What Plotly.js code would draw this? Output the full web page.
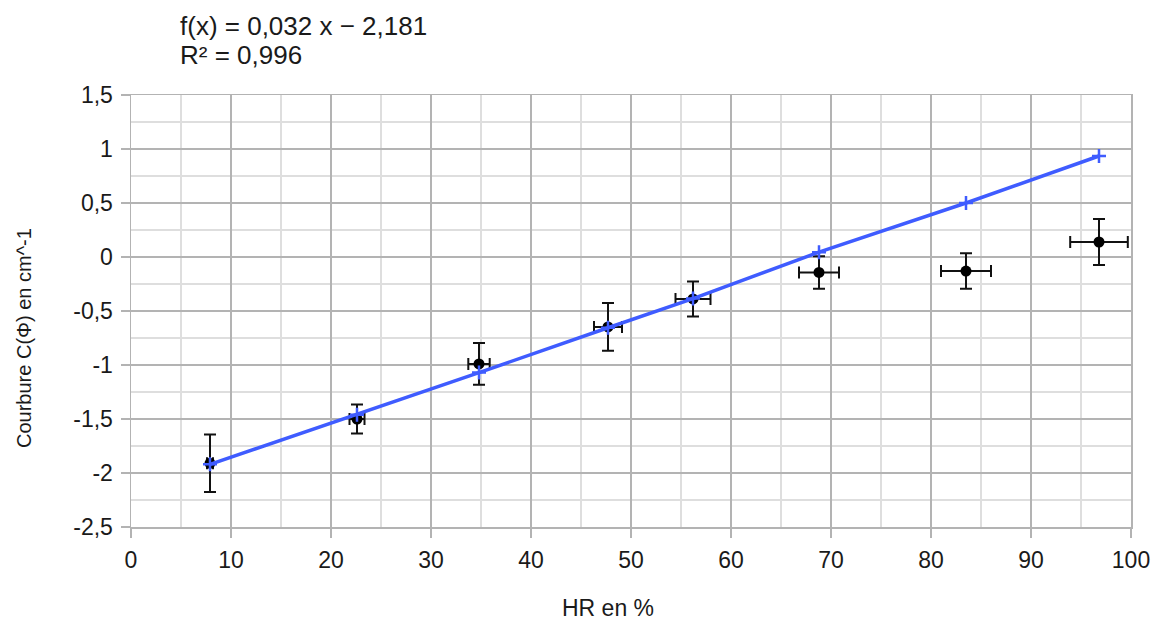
<!DOCTYPE html>
<html>
<head>
<meta charset="utf-8">
<script src="https://cdn.plot.ly/plotly-3.0.1.min.js"></script>
<style>
html,body{margin:0;padding:0;background:#fff;}
#chart{width:1155px;height:621px;}
</style>
</head>
<body>
<div id="chart"></div>
<script>
// Measured data (HR in %, curvature in cm^-1)
const hr = [7.9, 22.6, 34.8, 47.7, 56.2, 68.8, 83.5, 96.8];
const curvature = [-1.91, -1.50, -0.99, -0.647, -0.388, -0.143, -0.13, 0.139];
const curvErr = [0.267, 0.135, 0.193, 0.221, 0.162, 0.15, 0.165, 0.213];
const hrErr = [0.3, 0.75, 1.07, 1.4, 1.75, 2.0, 2.5, 2.88];

// Linear trend line values
const trendX = [7.9, 22.6, 34.8, 47.7, 56.2, 68.8, 83.5, 96.8];
const trendY = [-1.92, -1.46, -1.07, -0.655, -0.385, 0.045, 0.50, 0.935];

// Tick labels
const xTickVals = [0, 10, 20, 30, 40, 50, 60, 70, 80, 90, 100];
const xTickText = ["0", "10", "20", "30", "40", "50", "60", "70", "80", "90", "100"];
const yTickVals = [-2.5, -2, -1.5, -1, -0.5, 0, 0.5, 1, 1.5];
const yTickText = ["-2,5", "-2", "-1,5", "-1", "-0,5", "0", "0,5", "1", "1,5"];

const eqLine1 = "f(x) = 0,032 x − 2,181";
const eqLine2 = "R² = 0,996";
const xTitle = "HR en %";
const yTitle = "Courbure C(Φ) en cm^-1";

const FONT = "Liberation Sans, Arial, sans-serif";
const TXT = "#1a1a1a";
const FS = 23;

const dataTrace = {
  x: hr, y: curvature, type: "scatter", mode: "markers",
  marker: {color: "#000", size: 11, symbol: "circle"},
  error_y: {type: "data", array: curvErr, visible: true, color: "#111", thickness: 2, width: 6},
  error_x: {type: "data", array: hrErr, visible: true, color: "#111", thickness: 2, width: 6},
  hoverinfo: "x+y", showlegend: false
};
const trendTrace = {
  x: trendX, y: trendY, type: "scatter", mode: "lines+markers",
  line: {color: "#3f5cff", width: 3.5},
  marker: {symbol: "cross-thin", size: 10, line: {color: "#3f5cff", width: 2.5}, color: "#3f5cff"},
  showlegend: false
};

const L = 131, R = 24, T = 95, B = 94;
const plotW = 1155 - L - R, plotH = 621 - T - B;
const px2paperX = p => (p - L) / plotW;
const px2paperY = p => (621 - B - p) / plotH;

const layout = {
  width: 1155, height: 621,
  margin: {l: L, r: R, t: T, b: B, pad: 0},
  paper_bgcolor: "#fff", plot_bgcolor: "#fff",
  separators: ", ",
  font: {family: FONT, size: FS, color: TXT},
  xaxis: {
    range: [0, 100], tickvals: xTickVals, ticktext: xTickText,
    showgrid: true, gridcolor: "#b3b3b3", gridwidth: 1.5,
    zeroline: false, showline: true, mirror: true, linecolor: "#b3b3b3", linewidth: 1.5,
    ticks: "outside", ticklen: 9, tickwidth: 1.5, tickcolor: "#b3b3b3",
    ticklabelstandoff: 3,
    minor: {dtick: 5, showgrid: true, gridcolor: "#dedede", gridwidth: 1.5, ticks: ""},
    tickfont: {family: FONT, size: FS, color: TXT}, fixedrange: true
  },
  yaxis: {
    range: [-2.5, 1.5], tickvals: yTickVals, ticktext: yTickText,
    showgrid: true, gridcolor: "#b3b3b3", gridwidth: 1.5,
    zeroline: false, showline: true, mirror: true, linecolor: "#b3b3b3", linewidth: 1.5,
    ticks: "outside", ticklen: 9, tickwidth: 1.5, tickcolor: "#b3b3b3",
    ticklabelstandoff: 3,
    minor: {dtick: 0.25, showgrid: true, gridcolor: "#dedede", gridwidth: 1.5, ticks: ""},
    tickfont: {family: FONT, size: FS, color: TXT}, fixedrange: true
  },
  annotations: [
    {text: eqLine1, xref: "paper", yref: "paper", x: px2paperX(178), y: px2paperY(26),
     xanchor: "left", yanchor: "middle", showarrow: false, font: {family: FONT, size: 26, color: TXT}},
    {text: eqLine2, xref: "paper", yref: "paper", x: px2paperX(178), y: px2paperY(55),
     xanchor: "left", yanchor: "middle", showarrow: false, font: {family: FONT, size: 26, color: TXT}},
    {text: xTitle, xref: "paper", yref: "paper", x: px2paperX(608), y: px2paperY(608),
     xanchor: "center", yanchor: "middle", showarrow: false, font: {family: FONT, size: 23, color: TXT}},
    {text: yTitle, xref: "paper", yref: "paper", x: px2paperX(24), y: px2paperY(338),
     xanchor: "center", yanchor: "middle", textangle: -90, showarrow: false, font: {family: FONT, size: 20, color: TXT}}
  ]
};

Plotly.newPlot("chart", [dataTrace, trendTrace], layout, {displayModeBar: false, staticPlot: true});
</script>
</body>
</html>
